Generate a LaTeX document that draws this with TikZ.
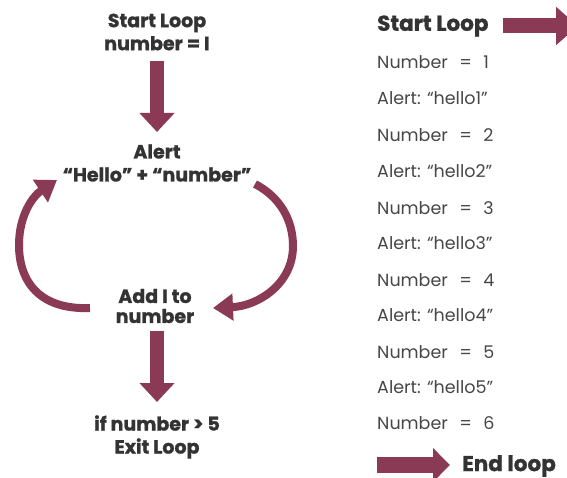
\documentclass[tikz,border=0pt]{standalone}
\usepackage{fontspec}
\setmainfont{Poppins}
\newfontfamily\heavyfont{Poppins}[UprightFont={* Bold}, FakeBold=1.2]
\usetikzlibrary{arrows.meta}
\definecolor{maroon}{HTML}{8B3A55}
\definecolor{txt}{HTML}{333333}
\tikzset{
  lbl/.style={font=\heavyfont\fontsize{19}{23}\selectfont, text=txt, align=center, inner sep=0pt},
  item/.style={font=\fontsize{17.5}{20}\selectfont, text=txt!90!white, anchor=west, inner sep=0pt},
  bighead/.style={font=\heavyfont\fontsize{21.5}{24}\selectfont, text=txt, anchor=west, inner sep=0pt},
  fatarrow/.style={draw=maroon, line width=14pt, -{Triangle[length=19pt,width=34pt]}},
  arcarrow/.style={draw=maroon, line width=8pt, -{Triangle[length=20pt,width=26pt]}},
  hfatA/.style={draw=maroon, line width=15pt, -{Triangle[length=22pt,width=37pt]}},
  hfatB/.style={draw=maroon, line width=16pt, -{Triangle[length=17pt,width=33pt]}},
}
\newcommand{\eqsp}{\hspace{0.65em}=\hspace{0.65em}}
\begin{document}
\begin{tikzpicture}[x=1pt,y=-1pt]
\useasboundingbox (0,0) rectangle (567,478);
% left column
\node[lbl] (start) at (157,32) {Start Loop\\number = I};
\node[lbl] (alert) at (157,163) {Alert\\“Hello” + “number”};
\node[lbl, font=\heavyfont\fontsize{19}{20}\selectfont] (add) at (155,306) {Add I to\\number};
\node[lbl] (exit) at (157,437) {if number > 5\\Exit Loop};
\coordinate (a1) at (157,61);
\coordinate (a1e) at (157,132);
\coordinate (a2) at (157,331);
\coordinate (a2e) at (157,402);
\draw[fatarrow] (a1) -- (a1e);
\draw[fatarrow] (a2) -- (a2e);
\coordinate (ls) at (90,308);
\coordinate (le) at (57,180);
\coordinate (rs) at (255,184);
\coordinate (re) at (213,308);
\draw[arcarrow] (ls) .. controls (40,310) and (19,282) .. (19,245) .. controls (19,215) and (33,196) .. (le);
\draw[arcarrow] (rs) .. controls (280,197) and (293,220) .. (293,246) .. controls (293,284) and (258,306) .. (re);
% right column
\node[bighead] (rstart) at (377,26) {Start Loop};
\coordinate (sa1) at (503,26);
\coordinate (sa2) at (578,26);
\draw[hfatA] (sa1) -- (sa2);
\node[item] (n1) at (377,62) {Number\eqsp1};
\node[item] (h1) at (377,98) {Alert: “hello1”};
\node[item] (n2) at (377,135) {Number\eqsp2};
\node[item] (h2) at (377,171) {Alert: “hello2”};
\node[item] (n3) at (377,208) {Number\eqsp3};
\node[item] (h3) at (377,243) {Alert: “hello3”};
\node[item] (n4) at (377,280) {Number\eqsp4};
\node[item] (h4) at (377,315) {Alert: “hello4”};
\node[item] (n5) at (377,352) {Number\eqsp5};
\node[item] (h5) at (377,387) {Alert: “hello5”};
\node[item] (n6) at (377,423) {Number\eqsp6};
\coordinate (ea1) at (377,465);
\coordinate (ea2) at (450,465);
\draw[hfatB] (ea1) -- (ea2);
\node[bighead] (end) at (462,466) {End loop};
\end{tikzpicture}
\end{document}
